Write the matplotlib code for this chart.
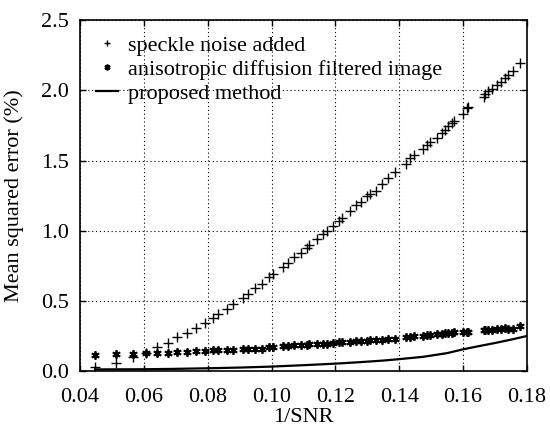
import matplotlib
matplotlib.use("Agg")
import matplotlib.pyplot as plt
from matplotlib.ticker import FormatStrFormatter

plt.rcParams['font.family'] = ['Liberation Serif', 'DejaVu Serif']
plt.rcParams['mathtext.fontset'] = 'stix'

# 1/SNR sample positions
inv_snr = [0.0447, 0.0513, 0.0565, 0.0607, 0.0642, 0.0677, 0.0705, 0.0734, 0.0763,
           0.0791, 0.0816, 0.0833, 0.0859, 0.0880, 0.0910, 0.0927, 0.0948, 0.0969,
           0.0993, 0.1005, 0.1035, 0.1052, 0.1070, 0.1091, 0.1110, 0.1118, 0.1141,
           0.1160, 0.1173, 0.1191, 0.1212, 0.1220, 0.1246, 0.1264, 0.1279, 0.1298,
           0.1308, 0.1327, 0.1345, 0.1366, 0.1387, 0.1421, 0.1434, 0.1447, 0.1473,
           0.1488, 0.1496, 0.1517, 0.1533, 0.1543, 0.1553, 0.1564, 0.1571, 0.1600,
           0.1611, 0.1616, 0.1665, 0.1668, 0.1679, 0.1691, 0.1705, 0.1718, 0.1731,
           0.1741, 0.1757, 0.1778]

speckle = [0.03, 0.06, 0.10, 0.13, 0.17, 0.20, 0.24, 0.27, 0.31,
           0.344, 0.375, 0.41, 0.443, 0.477, 0.524, 0.548, 0.589, 0.620,
           0.667, 0.691, 0.738, 0.771, 0.810, 0.842, 0.874, 0.897, 0.938,
           0.976, 0.999, 1.033, 1.071, 1.088, 1.142, 1.182, 1.206, 1.246,
           1.265, 1.284, 1.332, 1.372, 1.419, 1.474, 1.515, 1.538, 1.583,
           1.609, 1.633, 1.664, 1.697, 1.721, 1.745, 1.764, 1.782, 1.830,
           1.871, 1.882, 1.954, 1.977, 1.996, 2.013, 2.036, 2.060, 2.091,
           2.107, 2.138, 2.196]

anisotropic = [0.115, 0.120, 0.122, 0.126, 0.130, 0.131, 0.134, 0.136, 0.140,
               0.145, 0.148, 0.150, 0.152, 0.150, 0.155, 0.158, 0.160, 0.160,
               0.170, 0.172, 0.180, 0.180, 0.183, 0.186, 0.187, 0.190, 0.192,
               0.194, 0.195, 0.198, 0.205, 0.206, 0.210, 0.212, 0.213, 0.216,
               0.218, 0.222, 0.225, 0.228, 0.232, 0.240, 0.243, 0.248, 0.252,
               0.255, 0.256, 0.262, 0.266, 0.268, 0.268, 0.272, 0.276, 0.276,
               0.280, 0.278, 0.292, 0.294, 0.294, 0.296, 0.300, 0.302, 0.305,
               0.300, 0.302, 0.318]

proposed_x = [0.0447, 0.06, 0.07, 0.08, 0.09, 0.10, 0.11, 0.12, 0.128, 0.135,
              0.14, 0.1476, 0.155, 0.16, 0.165, 0.17, 0.175, 0.18]
proposed_y = [0.012, 0.013, 0.016, 0.020, 0.025, 0.032, 0.042, 0.053, 0.064, 0.075,
              0.085, 0.102, 0.128, 0.155, 0.178, 0.200, 0.224, 0.250]

x_ticks = [0.04, 0.06, 0.08, 0.10, 0.12, 0.14, 0.16, 0.18]
y_ticks = [0.0, 0.5, 1.0, 1.5, 2.0, 2.5]

fig = plt.figure(figsize=(5.5, 4.29), dpi=100)
ax = fig.add_axes([0.1455, 0.135, 0.8125, 0.818])

ax.plot(inv_snr, speckle, linestyle='none', marker='+', color='black',
        markersize=7, markeredgewidth=1.0, label='speckle noise added')
ax.plot(inv_snr, anisotropic, linestyle='none', marker=(6, 2, 0), color='black',
        markersize=6, markeredgewidth=1.3, label='anisotropic diffusion filtered image')
ax.plot(proposed_x, proposed_y, color='black', linewidth=1.6, label='proposed method')

ax.set_xlim(0.04, 0.18)
ax.set_ylim(0.0, 2.5)
ax.set_xticks(x_ticks)
ax.set_yticks(y_ticks)
ax.xaxis.set_major_formatter(FormatStrFormatter('%.2f'))
ax.yaxis.set_major_formatter(FormatStrFormatter('%.1f'))
ax.tick_params(direction='in', top=True, right=True, labelsize=16, length=4, width=1)
ax.tick_params(axis='x', pad=12)
ax.tick_params(axis='y', pad=8)
ax.grid(True, linestyle=(0, (1, 2.5)), color='black', linewidth=0.8)
for s in ax.spines.values():
    s.set_linewidth(1.2)

ax.set_xlabel('1/SNR', fontsize=16, labelpad=1)
ax.set_ylabel('Mean squared error (%)', fontsize=16, labelpad=12)

leg = ax.legend(loc='upper left', frameon=False, fontsize=16, handlelength=1.0,
                handletextpad=0.45, borderaxespad=0.3, labelspacing=0.15,
                markerscale=0.7, borderpad=0.4)

fig.savefig('out.png', dpi=100)
